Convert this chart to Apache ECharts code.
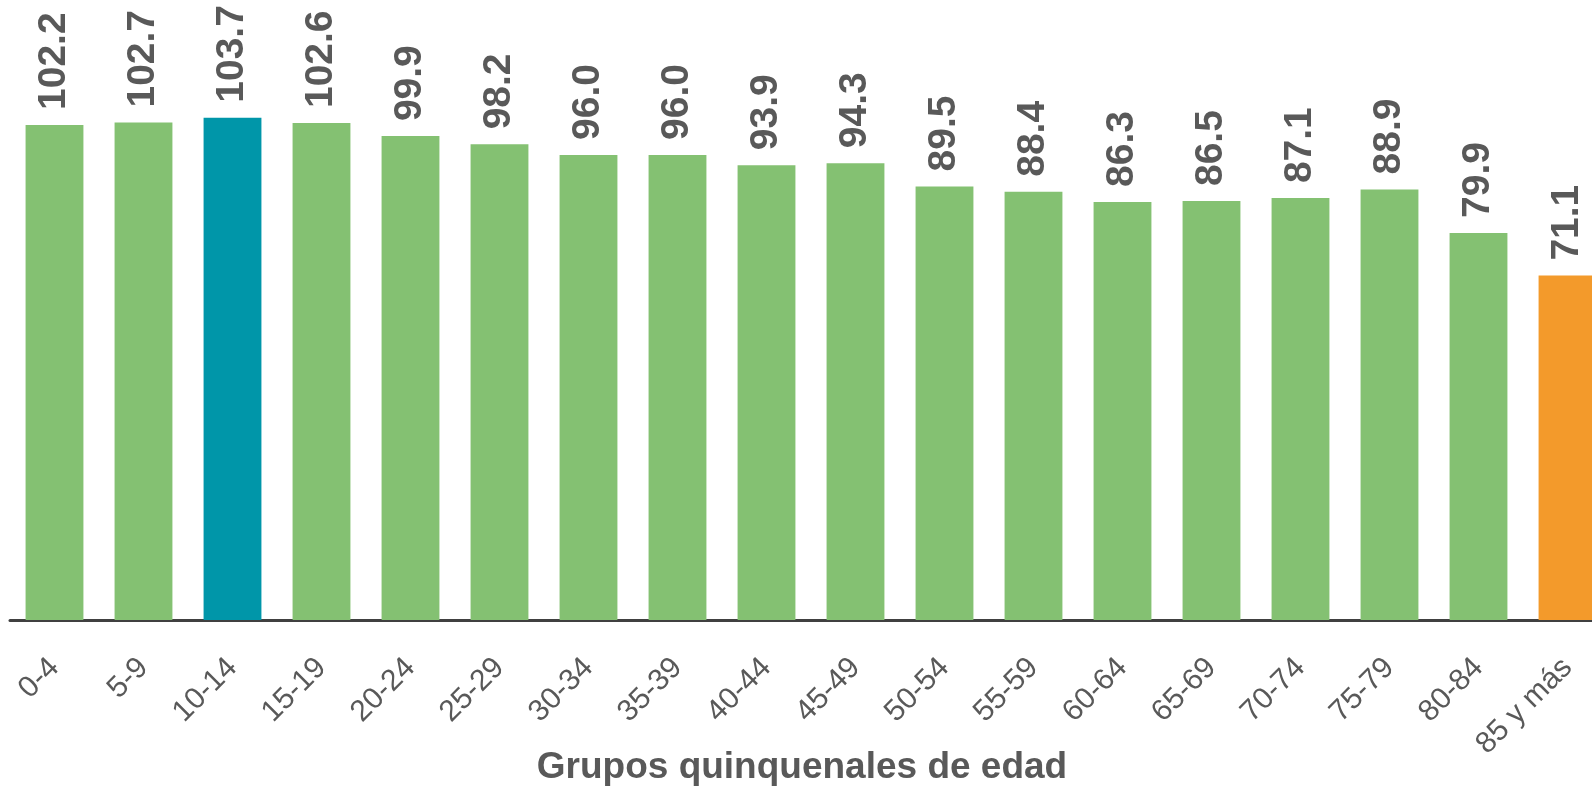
<!DOCTYPE html>
<html>
<head>
<meta charset="utf-8">
<script src="https://cdn.jsdelivr.net/npm/echarts@6/dist/echarts.min.js"></script>
<style>
  html, body { margin: 0; padding: 0; background: #fff; }
  #chart { width: 1592px; height: 789px; }
</style>
</head>
<body>
<div id="chart"></div>
<script>
const grupos = [
  "0-4", "5-9", "10-14", "15-19", "20-24", "25-29", "30-34", "35-39", "40-44",
  "45-49", "50-54", "55-59", "60-64", "65-69", "70-74", "75-79", "80-84", "85 y más",
];
const indice = [
  102.2, 102.7, 103.7, 102.6, 99.9, 98.2, 96.0, 96.0, 93.9,
  94.3, 89.5, 88.4, 86.3, 86.5, 87.1, 88.9, 79.9, 71.1,
];
const maxIdx = 2;
const lastIdx = grupos.length - 1;

const chart = echarts.init(document.getElementById("chart"));

const option = {
  animation: false,
  grid: {
    // the last bar runs off the right edge in the original
    left: 10, right: -20, top: 0, bottom: 169,
    containLabel: false,
    outerBoundsMode: "none",
  },
  xAxis: {
    type: "category",
    data: grupos,
    name: "Grupos quinquenales de edad",
    nameLocation: "middle",
    nameGap: 129,
    nameMoveOverlap: false,
    nameTextStyle: {
      fontFamily: "Liberation Sans, Arial, sans-serif",
      fontSize: 37,
      fontWeight: "bold",
      color: "#595959",
      padding: [0, 18, 0, 0],
    },
    axisLine: { lineStyle: { color: "#404040", width: 3 } },
    axisTick: { show: false },
    axisLabel: {
      interval: 0,
      rotate: 45,
      margin: 43,
      fontFamily: "Liberation Sans, Arial, sans-serif",
      fontSize: 30,
      color: "#595959",
    },
  },
  yAxis: {
    type: "value",
    min: 0,
    max: 128,
    show: false,
  },
  series: [
    {
      type: "bar",
      data: indice,
      barCategoryGap: "35%",
      itemStyle: {
        color: (p) =>
          p.dataIndex === maxIdx ? "#0096A9" : p.dataIndex === lastIdx ? "#F39A2B" : "#84C172",
      },
      label: {
        show: true,
        position: "top",
        rotate: 90,
        align: "left",
        verticalAlign: "middle",
        distance: 15,
        fontFamily: "Liberation Sans, Arial, sans-serif",
        fontSize: 39,
        fontWeight: "bold",
        color: "#595959",
        formatter: (p) => p.value.toFixed(1),
      },
    },
  ],
};

chart.setOption(option);
</script>
</body>
</html>
